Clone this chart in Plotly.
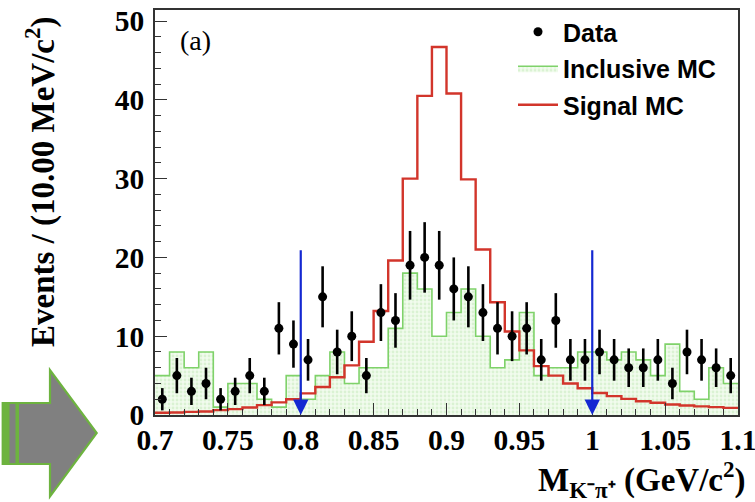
import plotly.graph_objects as go

# ---------------- data ----------------
bin_edges = [round(0.70 + 0.01 * i, 2) for i in range(41)]
bin_centers = [round(0.705 + 0.01 * i, 3) for i in range(40)]

data_counts = [2, 5, 3, 4, 2, 3, 5, 3, 11, 9, 7, 15, 8, 10, 5, 13, 12, 19, 20, 19,
               16, 15, 13, 11, 10, 11, 7, 12, 7, 7, 8, 7, 6, 6, 7, 4, 8, 7, 6, 5]
data_errors = [c ** 0.5 for c in data_counts]

inclusive_mc = [5, 8, 6, 8, 1, 4, 4, 2, 1, 5, 2, 5, 8, 4, 6, 6, 11, 18, 16, 10,
                13, 16, 10, 6, 7, 13, 5, 6, 6, 8, 8, 7, 8, 7, 5, 9, 3, 2, 6, 4]

signal_mc = [0.28, 0.32, 0.40, 0.45, 0.62, 0.75, 0.95, 1.25, 1.6, 2.0,
             2.75, 3.55, 4.8, 6.3, 9.3, 13.2, 19.6, 30.0, 40.5, 46.7,
             40.8, 29.9, 21.0, 14.3, 10.6, 8.2, 6.2, 5.0, 4.0, 3.4,
             2.8, 2.4, 2.05, 1.75, 1.55, 1.33, 1.2, 1.1, 1.0, 0.9]

cut_positions = [0.8, 1.0]
cut_arrow_top = 21.1

x_tickvals = [0.7, 0.75, 0.8, 0.85, 0.9, 0.95, 1.0, 1.05, 1.1]
x_ticktext = ["0.7", "0.75", "0.8", "0.85", "0.9", "0.95", "1", "1.05", "1.1"]
y_tickvals = [0, 10, 20, 30, 40, 50]

# ---------------- layout geometry ----------------
W, H = 755, 502
L, R, T, B = 155, 738, 10, 415


def px(xp):
    return (xp - L) / (R - L)


def py(yp):
    return (B - yp) / (B - T)


SERIF = "Liberation Serif"
SANS = "Liberation Sans"

fig = go.Figure()

# Inclusive MC (filled step histogram)
fig.add_trace(go.Scatter(
    x=bin_edges, y=inclusive_mc + [inclusive_mc[-1]],
    mode="lines", line=dict(shape="hv", color="#7fd26a", width=1.6),
    fill="tozeroy",
    fillcolor="#eef9ea",
    fillpattern=dict(shape=".", fgcolor="#c3eab8", bgcolor="#f1fbee", size=4, solidity=0.4),
    name="Inclusive MC", legendgroup="b", legendrank=2,
))

# Signal MC (red step)
fig.add_trace(go.Scatter(
    x=bin_edges, y=signal_mc + [signal_mc[-1]],
    mode="lines", line=dict(shape="hv", color="#d2352b", width=2.4),
    name="Signal MC", legendgroup="c", legendrank=3,
))

# Data
fig.add_trace(go.Scatter(
    x=bin_centers, y=data_counts, mode="markers",
    marker=dict(color="black", size=9),
    error_y=dict(type="data", array=data_errors, color="black", thickness=2.6, width=0),
    name="Data", legendgroup="a", legendrank=1,
))

annotations = []
for xc in cut_positions:
    annotations.append(dict(
        x=xc, y=0, ax=xc, ay=cut_arrow_top, xref="x", yref="y", axref="x", ayref="y",
        showarrow=True, arrowhead=2, arrowsize=1.4, arrowwidth=2.2, arrowcolor="#1428d2",
        text="", standoff=0,
    ))

annotations.append(dict(
    x=px(178), y=py(40), xref="paper", yref="paper", xanchor="left", yanchor="middle",
    text="(a)", showarrow=False, font=dict(family=SERIF, size=28, color="black"),
))
annotations.append(dict(
    x=px(40), y=py(182), xref="paper", yref="paper", xanchor="center", yanchor="middle",
    text="Events / (10.00 MeV/c<sup>2</sup>)", textangle=-90, showarrow=False,
    font=dict(family=SERIF, size=33, color="black", weight="bold"),
))
annotations.append(dict(
    x=px(748), y=py(479), xref="paper", yref="paper", xanchor="right", yanchor="middle",
    text="M<sub>K⁻π⁺</sub> (GeV/c<sup>2</sup>)", showarrow=False,
    font=dict(family=SERIF, size=33, color="black", weight="bold"),
))

# decorative grey arrow at bottom-left
arrow_pts = [(2.7, 403), (50, 403), (50, 370), (96.7, 433), (50, 496.5), (50, 464), (2.7, 464)]
path = "M " + " L ".join(f"{px(a):.5f},{py(b):.5f}" for a, b in arrow_pts) + " Z"
shapes = [
    dict(type="path", path=path, xref="paper", yref="paper",
         fillcolor="#808080", line=dict(color="#6db33f", width=2.2), layer="above"),
    dict(type="rect", xref="paper", yref="paper", x0=px(2.7), x1=px(9.5), y0=py(403), y1=py(464),
         fillcolor="#6db33f", line=dict(width=0), layer="above"),
    dict(type="rect", xref="paper", yref="paper", x0=px(15.5), x1=px(19), y0=py(403), y1=py(464),
         fillcolor="#6db33f", line=dict(width=0), layer="above"),
]

fig.update_layout(
    width=W, height=H,
    margin=dict(l=L, r=W - R, t=T, b=H - B, pad=0, autoexpand=False),
    paper_bgcolor="white", plot_bgcolor="white",
    showlegend=True,
    legend=dict(
        x=px(513), y=py(9), xanchor="left", yanchor="top",
        font=dict(family=SANS, size=25, color="black", weight="bold"),
        bgcolor="rgba(0,0,0,0)", borderwidth=0,
        traceorder="grouped", tracegroupgap=1, itemwidth=40,
    ),
    annotations=annotations,
    shapes=shapes,
)

fig.update_xaxes(
    range=[0.7, 1.1], showgrid=False, zeroline=False,
    showline=True, mirror=True, linecolor="#333333", linewidth=1.5,
    ticks="inside", ticklen=12, tickwidth=1.3, tickcolor="#333333",
    tickvals=x_tickvals, ticktext=x_ticktext, ticklabelstandoff=-2,
    ticklabeloverflow="allow",
    tickfont=dict(family=SERIF, size=29.5, color="black", weight="bold"),
    minor=dict(dtick=0.01, tick0=0.7, ticks="inside", ticklen=6, tickwidth=1.1, tickcolor="#333333"),
)
fig.update_yaxes(
    range=[0, 51.4], showgrid=False, zeroline=False,
    showline=True, mirror=True, linecolor="#333333", linewidth=1.5,
    ticks="inside", ticklen=12, tickwidth=1.3, tickcolor="#333333",
    tickvals=y_tickvals, ticklabelstandoff=3,
    tickfont=dict(family=SERIF, size=29.5, color="black", weight="bold"),
    minor=dict(dtick=2, tick0=0, ticks="inside", ticklen=6, tickwidth=1.1, tickcolor="#333333"),
)

fig.write_html("out.html", config={"displayModeBar": False},
               post_script="document.body.style.margin='0';document.body.style.padding='0';")
